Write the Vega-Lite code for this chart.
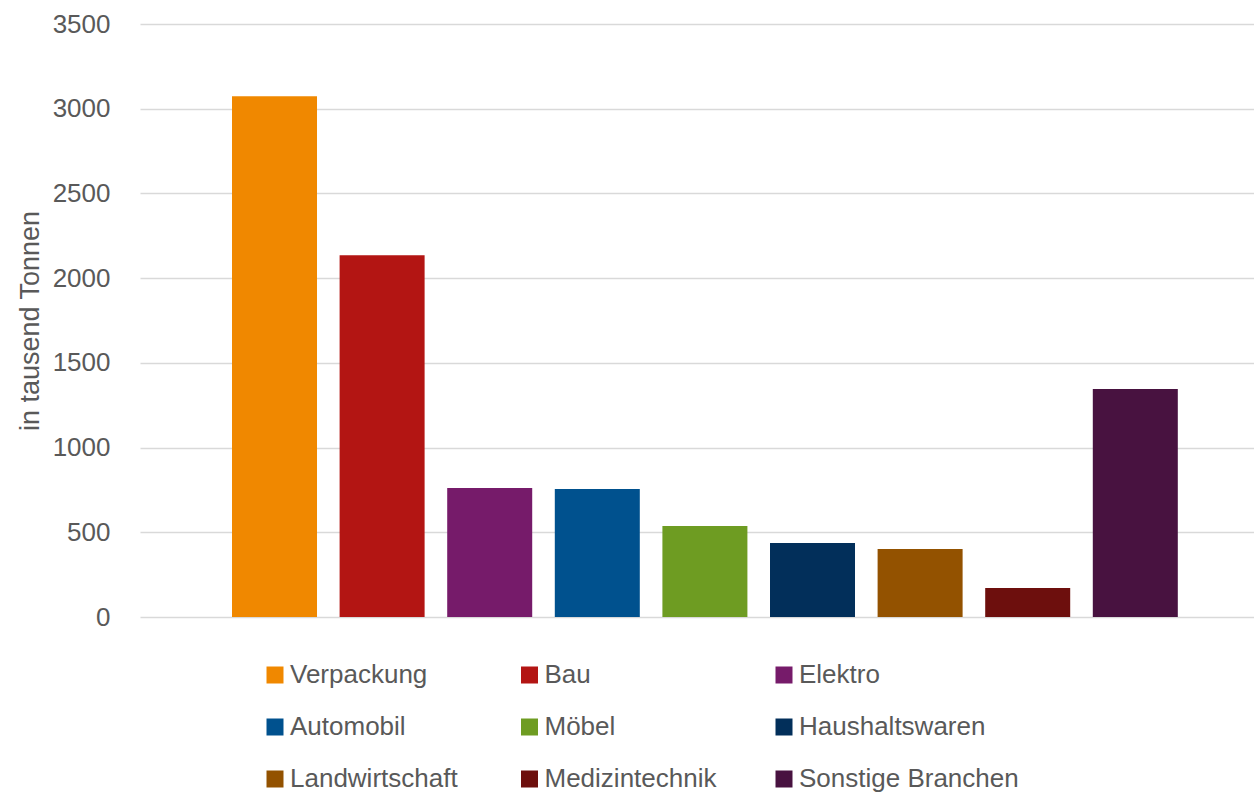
{
  "$schema": "https://vega.github.io/schema/vega-lite/v6.json",
  "width": 1114,
  "height": 593,
  "autosize": {"type": "none"},
  "padding": {"left": 140, "top": 24, "right": 0, "bottom": 180},
  "background": "white",
  "config": {
    "font": "Liberation Sans",
    "view": {"stroke": null},
    "text": {"font": "Liberation Sans"}
  },
  "data": {
    "values": [
      {"branche": "Verpackung", "menge": 3073},
      {"branche": "Bau", "menge": 2135},
      {"branche": "Elektro", "menge": 761},
      {"branche": "Automobil", "menge": 755},
      {"branche": "Möbel", "menge": 537},
      {"branche": "Haushaltswaren", "menge": 437},
      {"branche": "Landwirtschaft", "menge": 401},
      {"branche": "Medizintechnik", "menge": 171},
      {"branche": "Sonstige Branchen", "menge": 1345}
    ]
  },
  "mark": {"type": "bar", "strokeWidth": 0},
  "encoding": {
    "x": {
      "field": "branche",
      "type": "nominal",
      "sort": null,
      "axis": null,
      "scale": {"paddingInner": 0.21, "paddingOuter": 0.7816, "align": 0.547}
    },
    "y": {
      "field": "menge",
      "type": "quantitative",
      "scale": {"domain": [0, 3500], "nice": false, "zero": true},
      "axis": {
        "values": [0, 500, 1000, 1500, 2000, 2500, 3000, 3500],
        "format": "d",
        "title": "in tausend Tonnen",
        "titleFont": "Liberation Sans",
        "titleFontSize": 27,
        "titleFontWeight": "normal",
        "titleColor": "#595959",
        "titleX": -102,
        "titleBaseline": "alphabetic",
        "titleAngle": -90,
        "labelFont": "Liberation Sans",
        "labelFontSize": 26,
        "labelColor": "#595959",
        "labelPadding": 30,
        "ticks": false,
        "domain": false,
        "grid": true,
        "gridColor": "#d9d9d9",
        "gridWidth": 1.5
      }
    },
    "color": {
      "field": "branche",
      "type": "nominal",
      "scale": {
        "domain": ["Verpackung", "Bau", "Elektro", "Automobil", "Möbel", "Haushaltswaren", "Landwirtschaft", "Medizintechnik", "Sonstige Branchen"],
        "range": ["#F08800", "#B31513", "#761B6A", "#00518E", "#6E9C22", "#022F5A", "#935200", "#6D0F0D", "#481240"]
      },
      "legend": {
        "title": null,
        "orient": "none",
        "legendX": 122,
        "legendY": 638,
        "direction": "horizontal",
        "columns": 3,
        "gridAlign": "all",
        "columnPadding": 6.5,
        "rowPadding": 26,
        "padding": 0,
        "symbolType": "square",
        "symbolSize": 289,
        "symbolStrokeWidth": 0,
        "labelFont": "Liberation Sans",
        "labelFontSize": 26,
        "labelColor": "#595959",
        "labelOffset": 2,
        "labelLimit": 400
      }
    }
  }
}
